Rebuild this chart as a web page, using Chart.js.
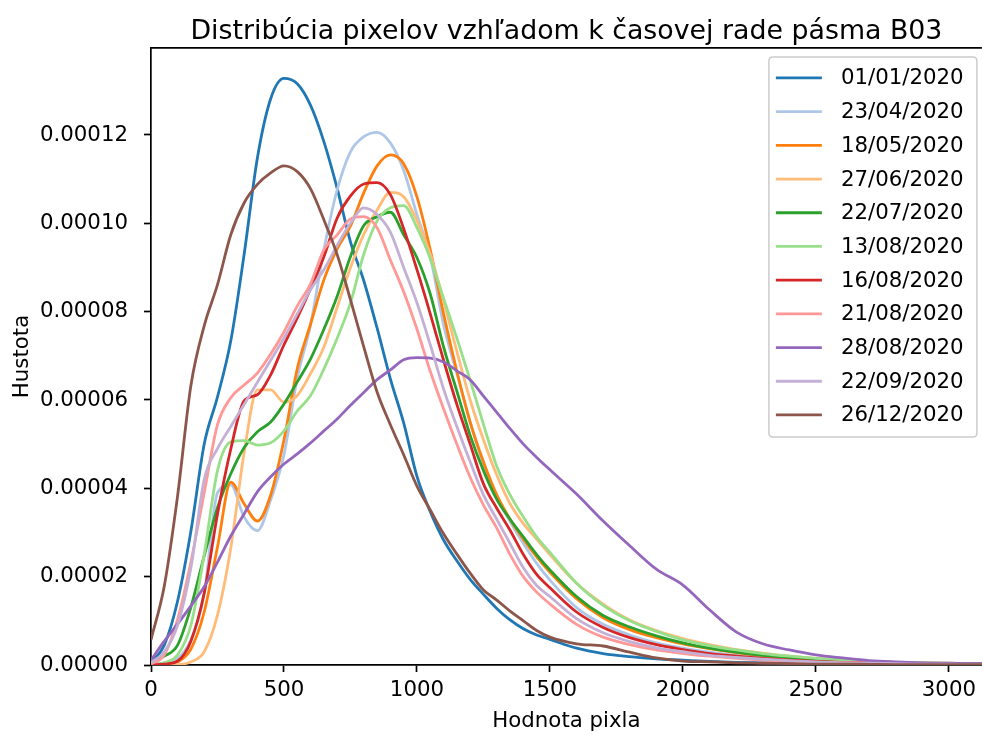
<!DOCTYPE html>
<html><head><meta charset="utf-8">
<script src="https://cdn.jsdelivr.net/npm/chart.js@4"></script>
<style>html,body{margin:0;padding:0;background:#fff}#wrap{width:982px;height:735px}</style>
</head><body><div id="wrap"><canvas id="c" width="982" height="735"></canvas></div>
<script>
// x positions (pixel value)
const xValues = [0,50,100,150,200,250,300,350,400,450,500,550,600,650,700,750,800,850,900,950,1000,1050,1100,1150,1200,1250,1300,1350,1400,1450,1500,1600,1700,1800,1900,2000,2100,2200,2300,2400,2500,2600,2700,2800,2900,3000,3100,3200];
const seriesLabels = ['01/01/2020','23/04/2020','18/05/2020','27/06/2020','22/07/2020','13/08/2020','16/08/2020','21/08/2020','28/08/2020','22/09/2020','26/12/2020'];
// density values in units of 1e-5
const d0101 = [0.05,0.45,1.45,3.03,5.0,6.07,7.34,9.29,11.48,12.82,13.28,13.16,12.67,11.85,10.79,9.58,8.70,7.63,6.48,5.48,4.27,3.47,2.83,2.36,1.94,1.6,1.28,1.02,0.82,0.68,0.58,0.38,0.26,0.19,0.14,0.11,0.08,0.06,0.05,0.04,0.03,0.02,0.02,0.015,0.01,0.01,0.01,0.01];
const d2304 = [0.02,0.05,0.14,0.57,1.61,3.9,4.08,3.35,3.04,3.74,4.76,6.5,7.7,9.4,10.76,11.62,11.96,12.06,11.82,11.2,10.19,9.25,7.7,6.6,5.5,4.55,3.8,3.25,2.75,2.3,1.92,1.3,0.92,0.68,0.5,0.38,0.29,0.22,0.17,0.13,0.1,0.07,0.05,0.04,0.03,0.02,0.02,0.02];
const d1805 = [0,0.01,0.07,0.36,1.2,2.67,4.14,3.65,3.26,3.85,5.1,6.71,7.72,8.72,9.42,9.94,10.69,11.30,11.55,11.35,10.6,9.4,7.95,6.65,5.5,4.6,3.85,3.3,2.85,2.45,2.1,1.5,1.07,0.8,0.62,0.48,0.37,0.28,0.21,0.16,0.12,0.09,0.07,0.05,0.04,0.03,0.03,0.03];
const d2706 = [0,0,0.01,0.07,0.3,1.13,2.65,4.8,6.23,6.23,5.95,6.1,6.6,7.2,8.1,9.0,9.75,10.3,10.7,10.6,10.06,9.3,8.25,7.1,6.0,5.1,4.3,3.65,3.2,2.85,2.5,1.85,1.38,1.02,0.78,0.6,0.46,0.35,0.27,0.2,0.15,0.11,0.08,0.06,0.05,0.04,0.03,0.03];
const d2207 = [0.05,0.2,0.45,1.31,2.47,3.56,4.33,4.92,5.28,5.5,5.91,6.41,6.93,7.6,8.35,9.25,9.95,10.15,10.25,9.74,9.22,8.4,7.2,6.2,5.2,4.4,3.75,3.3,2.9,2.5,2.15,1.55,1.12,0.86,0.66,0.5,0.38,0.29,0.22,0.17,0.13,0.1,0.07,0.05,0.04,0.03,0.03,0.03];
const d1308 = [0,0.05,0.23,0.9,2.5,4.4,5.05,5.08,4.98,5.03,5.3,5.75,6.1,6.7,7.4,8.2,9.3,10.05,10.35,10.4,9.9,9.2,8.3,7.4,6.45,5.45,4.5,3.85,3.35,2.9,2.55,1.85,1.35,1.0,0.76,0.57,0.44,0.34,0.26,0.2,0.15,0.11,0.08,0.06,0.05,0.04,0.03,0.03];
const d1608 = [0,0.02,0.09,0.54,1.63,3.42,4.89,5.98,6.12,6.57,7.25,7.86,8.52,9.24,10.12,10.62,10.89,10.92,10.65,9.88,8.95,7.95,6.9,5.9,5.0,4.1,3.55,3.05,2.5,2.05,1.75,1.2,0.85,0.62,0.46,0.35,0.26,0.2,0.15,0.11,0.08,0.06,0.05,0.04,0.03,0.02,0.02,0.02];
const d2108 = [0.02,0.23,1.03,2.33,3.9,5.44,6.05,6.34,6.61,7.04,7.54,8.13,8.63,9.4,9.74,10.1,10.15,9.9,9.17,8.45,7.6,6.65,5.8,5.0,4.25,3.62,3.1,2.5,2.0,1.65,1.38,0.92,0.63,0.46,0.34,0.26,0.2,0.15,0.11,0.08,0.06,0.05,0.04,0.03,0.02,0.02,0.01,0.01];
const d2808 = [0.11,0.54,0.93,1.34,1.77,2.33,2.92,3.42,3.92,4.26,4.55,4.78,5.03,5.3,5.57,5.88,6.17,6.46,6.68,6.91,6.96,6.95,6.86,6.66,6.46,6.09,5.72,5.35,5.0,4.7,4.42,3.87,3.26,2.7,2.17,1.81,1.25,0.75,0.48,0.34,0.23,0.16,0.1,0.07,0.05,0.04,0.03,0.03];
const d2209 = [0.05,0.3,0.9,2.2,4.2,4.9,5.4,5.9,6.4,6.9,7.4,7.95,8.5,8.95,9.5,10.0,10.35,10.2,9.8,9.0,8.2,7.25,6.25,5.4,4.6,3.85,3.3,2.75,2.2,1.8,1.55,1.05,0.73,0.53,0.39,0.3,0.22,0.17,0.13,0.1,0.07,0.05,0.04,0.03,0.02,0.02,0.01,0.01];
const d2612 = [0.57,1.79,3.83,6.33,7.68,8.61,9.74,10.46,10.88,11.14,11.3,11.17,10.78,10.08,9.29,8.27,7.2,6.18,5.44,4.76,4.05,3.51,2.97,2.51,2.08,1.7,1.47,1.22,1.0,0.78,0.63,0.48,0.43,0.29,0.16,0.09,0.07,0.05,0.04,0.03,0.02,0.02,0.015,0.01,0.01,0.01,0.01,0.01];
const xTicks = [0,500,1000,1500,2000,2500,3000];
const yTicks = [0,2,4,6,8,10,12];
const yTickLabels = ['0.00000','0.00002','0.00004','0.00006','0.00008','0.00010','0.00012'];

const allSeries = [d0101,d2304,d1805,d2706,d2207,d1308,d1608,d2108,d2808,d2209,d2612];
const palette = ['#1f77b4','#aec7e8','#ff7f0e','#ffbb78','#2ca02c','#98df8a','#d62728','#ff9896','#9467bd','#c5b0d5','#8c564b'];
const FAM = 'DejaVu Sans';
const FS = 21.3;

const datasets = allSeries.map((s,i)=>({
  label: seriesLabels[i],
  data: xValues.map((x,j)=>({x:x, y:s[j]})),
  borderColor: palette[i], backgroundColor: palette[i],
  borderWidth: 2.8, pointRadius: 0, pointHoverRadius: 0, fill: false,
  tension: 0, cubicInterpolationMode: 'monotone',
  order: allSeries.length - 1 - i
}));

const boxPlugin = {
  id: 'mplExtras',
  afterDraw(chart){
    const ctx = chart.ctx, ca = chart.chartArea;
    ctx.save();
    ctx.strokeStyle = '#000'; ctx.lineWidth = 1.7;
    ctx.beginPath(); ctx.moveTo(ca.left, ca.top); ctx.lineTo(ca.right, ca.top); ctx.stroke();
    const bw = 208, bh = 380;
    const bx = ca.right - 5 - bw, by = ca.top + 9;
    const r = 4;
    ctx.beginPath();
    ctx.moveTo(bx+r,by); ctx.lineTo(bx+bw-r,by); ctx.quadraticCurveTo(bx+bw,by,bx+bw,by+r);
    ctx.lineTo(bx+bw,by+bh-r); ctx.quadraticCurveTo(bx+bw,by+bh,bx+bw-r,by+bh);
    ctx.lineTo(bx+r,by+bh); ctx.quadraticCurveTo(bx,by+bh,bx,by+bh-r);
    ctx.lineTo(bx,by+r); ctx.quadraticCurveTo(bx,by,bx+r,by); ctx.closePath();
    ctx.fillStyle = 'rgba(255,255,255,0.8)'; ctx.fill();
    ctx.strokeStyle = '#cccccc'; ctx.lineWidth = 1.5; ctx.stroke();
    ctx.font = FS + 'px "' + FAM + '"';
    ctx.textBaseline = 'middle'; ctx.textAlign = 'left';
    chart.data.datasets.forEach((ds,i)=>{
      const y = by + 21 + i*33.7;
      ctx.strokeStyle = ds.borderColor; ctx.lineWidth = 2.8;
      ctx.beginPath(); ctx.moveTo(bx+7,y); ctx.lineTo(bx+53,y); ctx.stroke();
      ctx.fillStyle = '#000';
      ctx.fillText(ds.label, bx+72, y+1);
    });
    ctx.restore();
  }
};

new Chart(document.getElementById('c'), {
  type: 'line',
  data: { datasets },
  options: {
    responsive: false, animation: false, devicePixelRatio: 1,
    layout: { padding: 0 },
    plugins: {
      legend: { display: false },
      tooltip: { enabled: false },
      title: { display: true, text: 'Distribúcia pixelov vzhľadom k časovej rade pásma B03',
        font: { family: FAM, size: 26.8, weight: 'normal' }, color: '#000',
        padding: { top: 15.5, bottom: 0.3 }, fullSize: false }
    },
    scales: {
      x: {
        type: 'linear', min: 0, max: 3124,
        afterBuildTicks: s => { s.ticks = xTicks.map(v => ({ value: v })); },
        afterFit: s => { s.height = 70; },
        ticks: { font: { family: FAM, size: FS }, color: '#000', padding: 6, maxRotation: 0, autoSkip: false,
          callback: (v) => String(v) },
        grid: { drawOnChartArea: false, drawTicks: true, tickLength: 7, tickWidth: 1.7, tickColor: '#000' },
        border: { display: true, color: '#000', width: 1.7 },
        title: { display: true, text: 'Hodnota pixla', font: { family: FAM, size: FS }, color: '#000', padding: { top: 0, bottom: 1 } }
      },
      y: {
        type: 'linear', min: 0, max: 13.97,
        afterBuildTicks: s => { s.ticks = yTicks.map(v => ({ value: v })); },
        afterFit: s => { s.width = 151; },
        ticks: { font: { family: FAM, size: FS }, color: '#000', padding: 16, autoSkip: false,
          callback: (v, i) => yTickLabels[i] },
        grid: { drawOnChartArea: false, drawTicks: true, tickLength: 7, tickWidth: 1.7, tickColor: '#000' },
        border: { display: true, color: '#000', width: 1.7 },
        title: { display: true, text: 'Hustota', font: { family: FAM, size: FS }, color: '#000', padding: { top: 10, bottom: 0 } }
      }
    }
  },
  plugins: [boxPlugin]
});
</script></body></html>
